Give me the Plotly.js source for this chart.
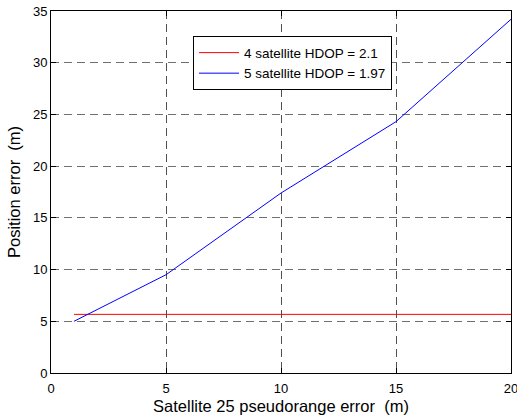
<!DOCTYPE html>
<html>
<head>
<meta charset="utf-8">
<script src="https://cdn.plot.ly/plotly-3.0.1.min.js"></script>
<style>html,body{margin:0;padding:0;background:#fff;}</style>
</head>
<body>
<div id="chart" style="width:517px;height:420px;"></div>
<script>
const errX4 = [1, 20];
const pos4 = [5.67, 5.67];
const errX5 = [1, 5, 10, 15, 20];
const pos5 = [5.0, 9.5, 17.4, 24.3, 34.2];
const xTicks = [0, 5, 10, 15, 20];
const yTicks = [0, 5, 10, 15, 20, 25, 30, 35];
const names = ['4 satellite HDOP = 2.1', '5 satellite HDOP = 1.97'];

const font = {family: 'Liberation Sans, Arial, sans-serif', color: '#000'};
const traces = [
  {x: errX4, y: pos4, mode: 'lines', name: names[0], line: {color: '#ff0000', width: 1}},
  {x: errX5, y: pos5, mode: 'lines', name: names[1], line: {color: '#0000ff', width: 1}}
];
const axisCommon = {
  showline: true, linecolor: '#000', linewidth: 1, mirror: 'ticks',
  ticks: 'inside', ticklen: 5, tickcolor: '#000',
  showgrid: true, griddash: '8px,5px', gridwidth: 1,
  zeroline: false, tickfont: Object.assign({size: 13}, font),
  ticklabeloverflow: 'allow'
};
const layout = {
  width: 517, height: 420,
  margin: {l: 51, r: 6, t: 11, b: 47},
  paper_bgcolor: '#fff', plot_bgcolor: '#fff',
  font: font,
  showlegend: true,
  legend: {
    x: 0.3087, y: 0.93, xanchor: 'left', yanchor: 'top',
    bordercolor: '#000', borderwidth: 1, bgcolor: '#fff',
    font: Object.assign({size: 13.5}, font), tracegroupgap: 0,
    itemwidth: 40
  },
  xaxis: Object.assign({}, axisCommon, {
    range: [0, 20], tickvals: xTicks, ticktext: xTicks.map(String),
    gridcolor: '#505050', ticklabelstandoff: 3,
    title: {text: 'Satellite 25 pseudorange error  (m)', font: Object.assign({size: 16.5}, font), standoff: 5}
  }),
  yaxis: Object.assign({}, axisCommon, {
    range: [0, 35], tickvals: yTicks, ticktext: yTicks.map(String),
    gridcolor: '#707070',
    title: {text: 'Position error  (m)', font: Object.assign({size: 16.5}, font), standoff: 8}
  })
};
Plotly.newPlot('chart', traces, layout, {displayModeBar: false, staticPlot: true});
</script>
</body>
</html>
